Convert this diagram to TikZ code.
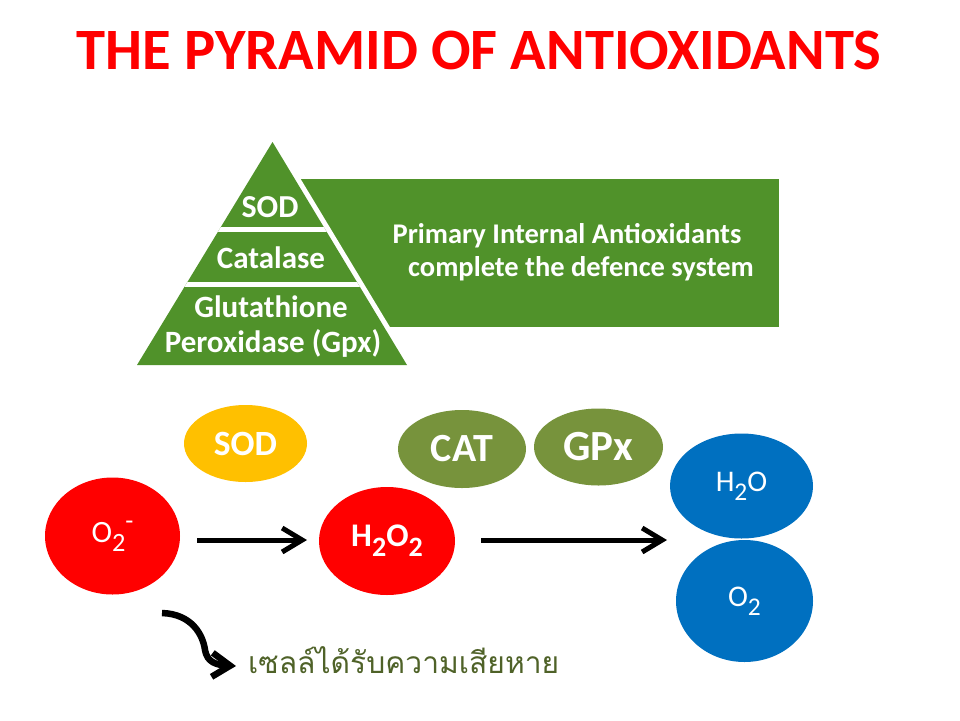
\documentclass[tikz,border=0pt]{standalone}
\usepackage{fontspec}
\usepackage{graphicx}
\setmainfont{Carlito}
\newfontfamily\thaifont[Script=Thai]{Loma}
\usetikzlibrary{shapes.geometric,arrows.meta}
\definecolor{titlered}{RGB}{255,0,0}
\definecolor{pgreen}{RGB}{80,146,42}
\definecolor{sodyellow}{RGB}{255,192,0}
\definecolor{olivegreen}{RGB}{119,147,60}
\definecolor{molred}{RGB}{255,0,0}
\definecolor{molblue}{RGB}{0,112,192}
\definecolor{thaigreen}{RGB}{79,98,40}
\newcommand{\fsz}[1]{\fontsize{#1}{#1}\selectfont}
\newcommand{\sbs}[1]{\raisebox{-0.3em}{\scalebox{0.85}{#1}}}
\newcommand{\sps}[1]{\raisebox{0.42em}{\scalebox{0.85}{#1}}}
\begin{document}
\begin{tikzpicture}[x=1pt,y=-1pt,
  blob/.style={ellipse, inner sep=0pt, text=white},
  pyrtext/.style={font=\bfseries\fsz{31}, text=white, anchor=base, inner sep=0pt},
  boxtext/.style={font=\bfseries\fsz{28.5}, text=white, anchor=base, inner sep=0pt},
  arr/.style={line width=5pt, draw=black, -{Straight Barb[length=20pt,width=24pt]}},
  curvearr/.style={line width=6.5pt, draw=black, -{Straight Barb[length=18pt,width=24pt]}}
]
\useasboundingbox (0,0) rectangle (960,720);
\fill[white] (0,0) rectangle (960,720);

% title
\node[font=\bfseries\fsz{58.6}, text=titlered, anchor=base, inner sep=0pt] (title) at (479,69) {THE PYRAMID OF ANTIOXIDANTS};

% pyramid
\fill[pgreen] (300,179) rectangle (779,327);
\coordinate (apex) at (272.5,142);
\coordinate (bl) at (137,365);
\coordinate (br) at (407,365);
\draw[white, line width=10pt, line join=round] (apex) -- (br) -- (bl) -- cycle;
\fill[pgreen] (apex) -- (br) -- (bl) -- cycle;
\begin{scope}
  \clip (apex) -- (br) -- (bl) -- cycle;
  \fill[white] (100,227) rectangle (450,232);
  \fill[white] (100,282) rectangle (450,287);
\end{scope}
\node[pyrtext, font=\bfseries\fsz{32}] (psod) at (270,217) {SOD};
\node[pyrtext] (pcat) at (271,268) {Catalase};
\node[pyrtext] (pglu) at (271,317) {Glutathione};
\node[pyrtext] (pgpx) at (273,352) {Peroxidase (Gpx)};
\node[boxtext] (bl1) at (567,243) {Primary Internal Antioxidants};
\node[boxtext] (bl2) at (581,276) {complete the defence system};

% enzymes
\node[blob, fill=sodyellow, minimum width=123pt, minimum height=77pt, font=\bfseries\fsz{35.5}] (sod) at (245.5,443.5) {SOD};
\node[blob, fill=olivegreen, minimum width=128pt, minimum height=78pt, font=\bfseries\fsz{40}] (cat) at (462,449) {CAT};
\node[blob, fill=olivegreen, minimum width=129pt, minimum height=77pt, font=\bfseries\fsz{43}] (gpx) at (598.5,447) {GPx};

% molecules
\node[blob, fill=molred, minimum width=135pt, minimum height=117pt, font=\fsz{31}] (o2m) at (112.5,536) {O\sbs{2}\sps{-}};
\node[blob, fill=molred, minimum width=136pt, minimum height=108pt, font=\bfseries\fsz{33}] (h2o2) at (387,541) {H\sbs{2}O\sbs{2}};
\node[blob, fill=molblue, minimum width=143pt, minimum height=105pt, font=\fsz{30}] (h2o) at (741.5,486) {H\sbs{2}O};
\node[blob, fill=molblue, minimum width=137pt, minimum height=122pt, font=\fsz{30}] (o2) at (744.5,601) {O\sbs{2}};

% arrows
\coordinate (a1s) at (197,540);
\coordinate (a1e) at (307,540);
\draw[arr] (a1s) -- (a1e);
\coordinate (a2s) at (481,540);
\coordinate (a2e) at (667,540);
\draw[arr] (a2s) -- (a2e);

% damage
\node[font=\thaifont\fsz{30}, text=thaigreen, anchor=base west, inner sep=0pt] (damage) at (248,673) {เซลล์ได้รับความเสียหาย};
\coordinate (cs) at (162,613);
\coordinate (ce) at (236,666);
\draw[curvearr] (cs) .. controls (192,614) and (203,635) .. (205,650) .. controls (207,662) and (216,665) .. (ce);
\end{tikzpicture}
\end{document}
